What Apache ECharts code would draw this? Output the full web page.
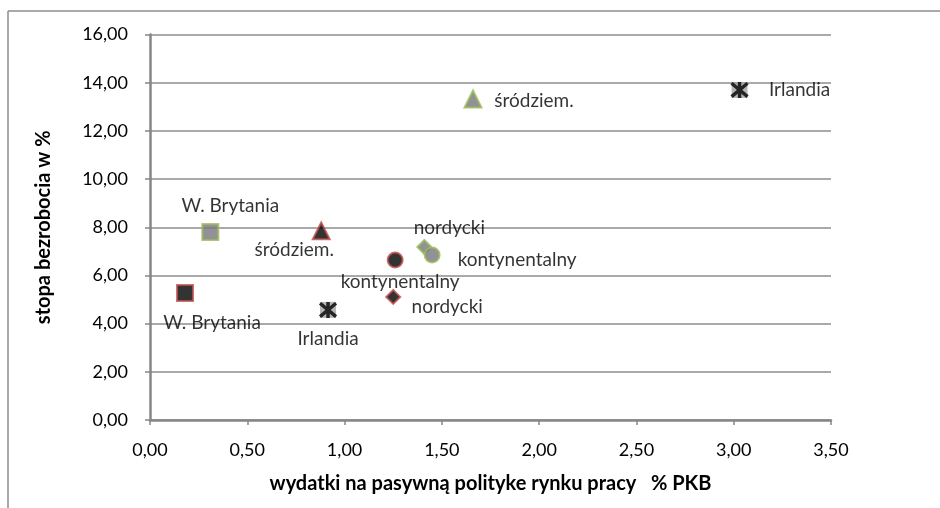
<!DOCTYPE html>
<html>
<head>
<meta charset="utf-8">
<script src="https://cdn.jsdelivr.net/npm/echarts@6/dist/echarts.min.js"></script>
<style>
  html, body { margin: 0; padding: 0; background: #fff; }
  #chart { width: 940px; height: 508px; }
</style>
</head>
<body>
<div id="chart"></div>
<script>
// regiony (grupy krajów)
const regions = ['W. Brytania', 'śródziem.', 'nordycki', 'kontynentalny', 'Irlandia'];
// zestaw 1 (szare znaczniki, zielona obwódka)
const spendA = [0.31, 1.66, 1.41, 1.45, 3.03];
const unempA = [7.80, 13.32, 7.18, 6.85, 13.70];
// zestaw 2 (czarne znaczniki, czerwona obwódka)
const spendB = [0.18, 0.88, 1.25, 1.26, 0.915];
const unempB = [5.27, 7.85, 5.11, 6.64, 4.57];
const yTicks = [0, 2, 4, 6, 8, 10, 12, 14, 16];

const symbols = ['rect', 'triangle', 'diamond', 'circle', 'rect'];
const sizes = [16, 17, 14, 15, 16];
// przesunięcia etykiet (środek etykiety względem punktu)
const offA = [[20, -26], [61, 2], [25, -19], [85, 5], [60, 0]];
const offB = [[27, 30], [-27, 19], [54, 10], [5, 22], [0, 29]];

const font = 'Lato, "Open Sans", sans-serif';
const asterisk = 'path://M0,0 L10,10 M10,0 L0,10 M5,-1 L5,11';

function buildData(xs, ys, offs, fill, border) {
    return regions.map((name, i) => {
        const isIrl = name === 'Irlandia';
        return {
            name: name,
            value: [xs[i], ys[i]],
            symbol: symbols[i],
            symbolSize: sizes[i],
            itemStyle: isIrl
                ? { color: '#a3a3a3', borderWidth: 0 }
                : { color: fill, borderColor: border, borderWidth: 2 },
            label: {
                show: true,
                formatter: name,
                position: 'inside',
                offset: offs[i],
                color: '#000',
                fontFamily: font,
                fontSize: 19
            }
        };
    });
}

const irlData = [
    [spendA[4], unempA[4]],
    [spendB[4], unempB[4]]
];

const chart = echarts.init(document.getElementById('chart'));
chart.setOption({
    animation: false,
    backgroundColor: '#fff',
    grid: { left: 150, right: 109, top: 34.5, bottom: 88 },
    xAxis: {
        type: 'value',
        min: 0,
        max: 3.5,
        interval: 0.5,
        name: 'wydatki na pasywną polityke rynku pracy   % PKB',
        nameLocation: 'middle',
        nameGap: 54,
        nameTextStyle: { fontFamily: font, fontWeight: 'bold', fontSize: 20, color: '#000' },
        axisLine: { lineStyle: { color: '#868686', width: 2.5 } },
        axisTick: { show: true, inside: false, length: 5, lineStyle: { color: '#868686', width: 1.5 } },
        axisLabel: {
            fontFamily: font, fontSize: 18, color: '#000', margin: 21,
            formatter: v => v.toFixed(2).replace('.', ',')
        },
        splitLine: { show: false }
    },
    yAxis: {
        type: 'value',
        min: yTicks[0],
        max: yTicks[yTicks.length - 1],
        interval: 2,
        name: 'stopa bezrobocia w %',
        nameLocation: 'middle',
        nameGap: 96,
        nameTextStyle: { fontFamily: font, fontWeight: 'bold', fontSize: 20, color: '#000' },
        axisLine: { show: true, lineStyle: { color: '#868686', width: 2.5 } },
        axisTick: { show: true, inside: false, length: 5, lineStyle: { color: '#868686', width: 1.5 } },
        axisLabel: {
            fontFamily: font, fontSize: 18, color: '#000', margin: 22,
            formatter: v => v.toFixed(2).replace('.', ',')
        },
        splitLine: { lineStyle: { color: '#8c8c8c', width: 1.5 } }
    },
    graphic: [
        { type: 'line', shape: { x1: 8, y1: 11, x2: 8, y2: 508 }, style: { stroke: '#8c8c8c', lineWidth: 1.5 } },
        { type: 'line', shape: { x1: 8, y1: 11, x2: 940, y2: 11 }, style: { stroke: '#8c8c8c', lineWidth: 1.5 } }
    ],
    series: [
        {
            type: 'scatter',
            data: buildData(spendA, unempA, offA, '#77767b', '#9bbb59')
        },
        {
            type: 'scatter',
            data: buildData(spendB, unempB, offB, '#000000', '#c0504d')
        },
        {
            type: 'scatter',
            symbol: asterisk,
            symbolSize: 16,
            itemStyle: { color: 'none', borderColor: '#000', borderWidth: 3.5 },
            data: irlData,
            z: 5
        }
    ]
});
</script>
</body>
</html>
